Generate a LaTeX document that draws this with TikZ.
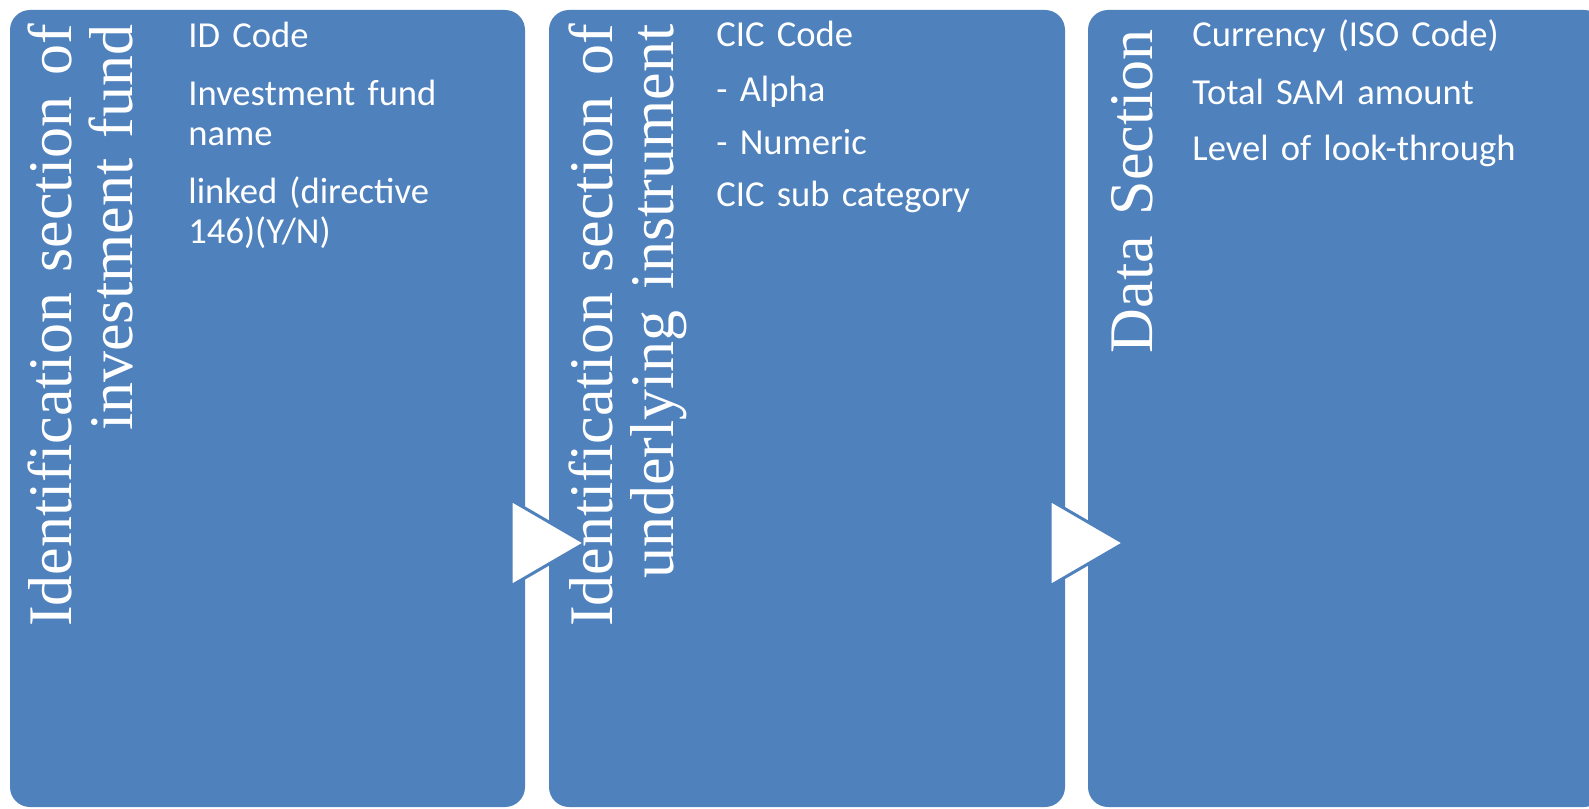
\documentclass[tikz,border=0pt]{standalone}
\usepackage{fontspec}
\setmainfont{Carlito}
\newfontfamily\titlefont{Liberation Serif}
\definecolor{boxBlue}{RGB}{79, 129, 189}
\tikzset{
  sectiontitle/.style={rotate=90, anchor=base east, inner sep=0pt, text width=320pt,
    align=right, text=white, font=\titlefont\fontsize{31}{30.5}\selectfont},
  entrytext/.style={anchor=base west, inner sep=0pt, text width=200pt,
    align=left, text=white, font=\fontsize{18.3}{20}\selectfont},
  panel/.style={fill=boxBlue, rounded corners=10pt},
  pointer/.style={fill=white, draw=boxBlue, line width=1.5pt, line join=miter}
}

\begin{document}
\begin{tikzpicture}[x=0.5pt, y=-0.5pt]
  \useasboundingbox (0,0) rectangle (1589,808);
  % the three sections
  \fill[panel] (10,10) rectangle (525,807);
  \fill[panel] (549,10) rectangle (1065,807);
  \fill[panel] (1088,10) rectangle (1604,807);
  % pointers between the sections
  \filldraw[pointer] (511,500) -- (585,543) -- (511,586) -- cycle;
  \filldraw[pointer] (1050,500) -- (1124,543) -- (1050,586) -- cycle;

  \node[sectiontitle] (fundtitle) at (71.7,24) {Identification section of\\investment fund};
  \node[entrytext] (idcode) at (188,47.3) {ID Code};
  \node[entrytext] (fundname) at (188,105) {Investment fund\\name};
  \node[entrytext] (linked) at (188,203.3) {linked (directive\\146)(Y/N)};

  \node[sectiontitle] (instrtitle) at (612,24) {Identification section of\\underlying instrument};
  \node[entrytext] (ciccode) at (716,46.7) {CIC Code};
  \node[entrytext] (alpha) at (716,101.7) {- Alpha};
  \node[entrytext] (numeric) at (716,155) {- Numeric};
  \node[entrytext] (cicsub) at (716,206.7) {CIC sub category};

  \node[sectiontitle] (datatitle) at (1152,29) {Data Section};
  \node[entrytext] (currency) at (1192,46.7) {Currency (ISO Code)};
  \node[entrytext] (samamount) at (1192,104.3) {Total SAM amount};
  \node[entrytext] (lookthrough) at (1192,160) {Level of look-through};
\end{tikzpicture}
\end{document}
